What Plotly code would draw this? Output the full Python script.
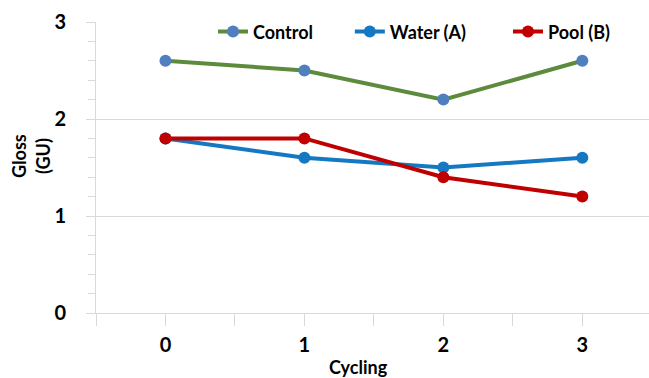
import plotly.graph_objects as go

# Gloss readings per cycling step
cycles = [0, 1, 2, 3]
control = [2.6, 2.5, 2.2, 2.6]
water_a = [1.8, 1.6, 1.5, 1.6]
pool_b = [1.8, 1.8, 1.4, 1.2]

series_names = ["Control", "Water (A)", "Pool (B)"]
line_colors = ["#5B8B3B", "#1478C2", "#C00000"]
marker_colors = ["#4F7FBF", "#1478C2", "#C00000"]
legend_ids = ["legend", "legend2", "legend3"]
legend_x = [0.2116, 0.459, 0.745]

FONT = "Lato"
grid = "#D9D9D9"

fig = go.Figure()
for name, vals, lc, mc, lg in zip(series_names, [control, water_a, pool_b],
                                  line_colors, marker_colors, legend_ids):
    fig.add_trace(go.Scatter(
        x=cycles, y=vals, name=name, mode="lines+markers",
        line=dict(color=lc, width=4),
        marker=dict(color=mc, size=12),
        legend=lg,
    ))

legend_style = dict(
    orientation="h", y=0.966, xanchor="left", yanchor="middle",
    font=dict(family=FONT, size=18, weight="bold"),
    bgcolor="rgba(0,0,0,0)", itemwidth=30,
)

title_font = dict(family=FONT, size=18, weight="bold", color="black")

fig.update_layout(
    width=649, height=378,
    margin=dict(l=96, r=0, t=22, b=65),
    paper_bgcolor="white", plot_bgcolor="white",
    font=dict(family=FONT, color="black"),
    showlegend=True,
    legend=dict(x=legend_x[0], **legend_style),
    legend2=dict(x=legend_x[1], **legend_style),
    legend3=dict(x=legend_x[2], **legend_style),
    xaxis=dict(
        range=[-0.5, 3.48], tickmode="array", tickvals=cycles,
        ticktext=[str(c) for c in cycles],
        showgrid=False, zeroline=False, automargin=False,
        showline=True, linecolor=grid, linewidth=1,
        ticks="outside", ticklen=12, tickcolor=grid,
        minor=dict(tickmode="array", tickvals=[-0.5, 0.5, 1.5, 2.5, 3.5],
                   ticks="outside", ticklen=12, tickcolor=grid),
        tickfont=dict(family=FONT, size=20, weight="bold"),
        ticklabelstandoff=2,
    ),
    yaxis=dict(
        range=[0, 3], dtick=1, tick0=0, automargin=False,
        showgrid=True, gridcolor=grid, gridwidth=1,
        zeroline=False,
        showline=True, linecolor=grid, linewidth=1,
        ticks="outside", ticklen=9, tickcolor=grid,
        minor=dict(dtick=0.2, ticks="outside", ticklen=7, tickcolor=grid, showgrid=False),
        tickfont=dict(family=FONT, size=20, weight="bold"),
        ticklabelstandoff=16,
    ),
    yaxis2=dict(
        overlaying="y", side="left", range=[0, 3], dtick=1,
        showgrid=False, zeroline=False, showline=False, showticklabels=False,
        ticks="", minor=dict(dtick=0.2, ticks="inside", ticklen=11, tickcolor=grid),
    ),
    annotations=[
        dict(text="Gloss<br>(GU)", textangle=-90, showarrow=False,
             xref="paper", yref="paper", x=-0.1175, y=0.54,
             xanchor="center", yanchor="middle", font=title_font),
        dict(text="Cycling", showarrow=False,
             xref="paper", yref="paper", x=0.475, y=-0.186,
             xanchor="center", yanchor="middle", font=title_font),
    ],
)

fig.write_html("out.html")
